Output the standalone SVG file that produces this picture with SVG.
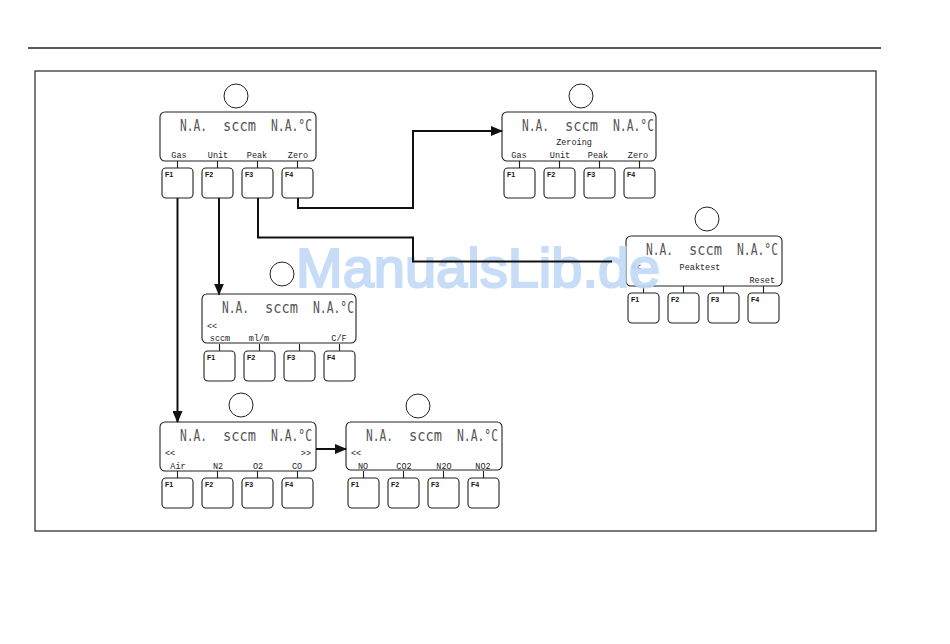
<svg xmlns="http://www.w3.org/2000/svg" width="950" height="644" viewBox="0 0 950 644">
<defs>
<style>
.disp{fill:#fff;stroke:#222;stroke-width:1.1}
.btn{fill:#fff;stroke:#222;stroke-width:1.1}
.num{fill:#fff;stroke:#222;stroke-width:1}
.stub{stroke:#222;stroke-width:1.1}
.lcd{font-family:"DejaVu Sans Mono","Liberation Mono",monospace;font-size:15px;fill:#555}
.lbl{font-family:"Liberation Mono","DejaVu Sans Mono",monospace;font-size:8.5px;fill:#222;text-anchor:middle}
.lbll{font-family:"Liberation Mono","DejaVu Sans Mono",monospace;font-size:8.5px;fill:#222}
.fk{font-family:"Liberation Sans",Arial,sans-serif;font-size:7px;font-weight:bold;fill:#111}
.conn{fill:none;stroke:#111;stroke-width:2}
.wm{font-family:"Liberation Sans",Arial,sans-serif;font-size:56px;font-weight:normal;fill:#c2d9f6;stroke:#c2d9f6;stroke-width:2.2;opacity:0.9}
</style>
<marker id="ah" markerUnits="userSpaceOnUse" markerWidth="12" markerHeight="10" refX="11" refY="5" orient="auto">
<path d="M0,0 L12,5 L0,10 Z" fill="#111"/>
</marker>
<g id="lcdrow">
<text class="lcd" x="20" y="19" textLength="27" lengthAdjust="spacingAndGlyphs">N.A.</text>
<text class="lcd" x="63" y="19" textLength="33" lengthAdjust="spacingAndGlyphs">sccm</text>
<text class="lcd" x="111" y="19" textLength="41" lengthAdjust="spacingAndGlyphs">N.A.°C</text>
</g>
<g id="keys">
<line class="stub" x1="17.5" y1="49" x2="17.5" y2="56"/>
<line class="stub" x1="57.5" y1="49" x2="57.5" y2="56"/>
<line class="stub" x1="97.5" y1="49" x2="97.5" y2="56"/>
<line class="stub" x1="137.5" y1="49" x2="137.5" y2="56"/>
<rect class="btn" x="2" y="56" width="31" height="30" rx="4"/>
<rect class="btn" x="42" y="56" width="31" height="30" rx="4"/>
<rect class="btn" x="82" y="56" width="31" height="30" rx="4"/>
<rect class="btn" x="122" y="56" width="31" height="30" rx="4"/>
<text class="fk" x="5" y="65">F1</text>
<text class="fk" x="45" y="65">F2</text>
<text class="fk" x="85" y="65">F3</text>
<text class="fk" x="125" y="65">F4</text>
</g>
</defs>

<line x1="28" y1="48" x2="881" y2="48" stroke="#222" stroke-width="1.5"/>
<rect x="35" y="71" width="841" height="460" fill="none" stroke="#222" stroke-width="1.2"/>

<g id="panel-main" transform="translate(160,112)">
<circle class="num" cx="76" cy="-16" r="12"/>
<rect class="disp" x="0" y="0" width="156" height="49" rx="5"/>
<use href="#lcdrow"/>
<text class="lbl" x="19" y="46">Gas</text>
<text class="lbl" x="58" y="46">Unit</text>
<text class="lbl" x="97" y="46">Peak</text>
<text class="lbl" x="138" y="46">Zero</text>
<use href="#keys"/>
</g>

<g id="panel-zeroing" transform="translate(502,112)">
<circle class="num" cx="79" cy="-16" r="12"/>
<rect class="disp" x="0" y="0" width="154" height="49" rx="5"/>
<use href="#lcdrow"/>
<text class="lbl" x="72" y="33">Zeroing</text>
<text class="lbl" x="17" y="46">Gas</text>
<text class="lbl" x="58" y="46">Unit</text>
<text class="lbl" x="96" y="46">Peak</text>
<text class="lbl" x="136" y="46">Zero</text>
<use href="#keys"/>
</g>

<g id="panel-peaktest" transform="translate(626,236)">
<circle class="num" cx="81" cy="-17" r="12"/>
<rect class="disp" x="0" y="0" width="156" height="50" rx="5"/>
<use href="#lcdrow"/>
<text class="lbll" x="5" y="34">&lt;&lt;</text>
<text class="lbl" x="74" y="34">Peaktest</text>
<text class="lbl" x="149" y="47" style="text-anchor:end">Reset</text>
<use href="#keys" transform="translate(0,1)"/>
</g>

<g id="panel-unit" transform="translate(202,294)">
<circle class="num" cx="80" cy="-20" r="12"/>
<rect class="disp" x="0" y="0" width="154" height="49" rx="5"/>
<use href="#lcdrow"/>
<text class="lbll" x="5" y="35">&lt;&lt;</text>
<text class="lbl" x="18" y="47">sccm</text>
<text class="lbl" x="57" y="47">ml/m</text>
<text class="lbl" x="137" y="47">C/F</text>
<use href="#keys" transform="translate(0,1)"/>
</g>

<g id="panel-gas1" transform="translate(160,422)">
<circle class="num" cx="81" cy="-17" r="12"/>
<rect class="disp" x="0" y="0" width="156" height="49" rx="5"/>
<use href="#lcdrow"/>
<text class="lbll" x="5" y="34">&lt;&lt;</text>
<text class="lbl" x="151" y="34" style="text-anchor:end">&gt;&gt;</text>
<text class="lbl" x="18" y="47">Air</text>
<text class="lbl" x="58" y="47">N2</text>
<text class="lbl" x="98" y="47">O2</text>
<text class="lbl" x="137" y="47">CO</text>
<use href="#keys"/>
</g>

<g id="panel-gas2" transform="translate(346,422)">
<circle class="num" cx="72" cy="-16" r="12"/>
<rect class="disp" x="0" y="0" width="156" height="48" rx="5"/>
<use href="#lcdrow"/>
<text class="lbll" x="5" y="34">&lt;&lt;</text>
<text class="lbl" x="17" y="47">NO</text>
<text class="lbl" x="58" y="47">CO2</text>
<text class="lbl" x="98" y="47">N2O</text>
<text class="lbl" x="137" y="47">NO2</text>
<use href="#keys"/>
</g>

<text class="wm" x="296" y="287">ManualsLib.de</text>

<g id="connectors">
<path class="conn" d="M177.5,198 V422" marker-end="url(#ah)"/>
<path class="conn" d="M219,198 V294.5" marker-end="url(#ah)"/>
<path class="conn" d="M258,198 V237.5 H413 V261.5 H612"/>
<path class="conn" d="M298,198 V208 H413 V131 H502" marker-end="url(#ah)"/>
<path class="conn" d="M316,449 H346" marker-end="url(#ah)"/>
</g>
</svg>
